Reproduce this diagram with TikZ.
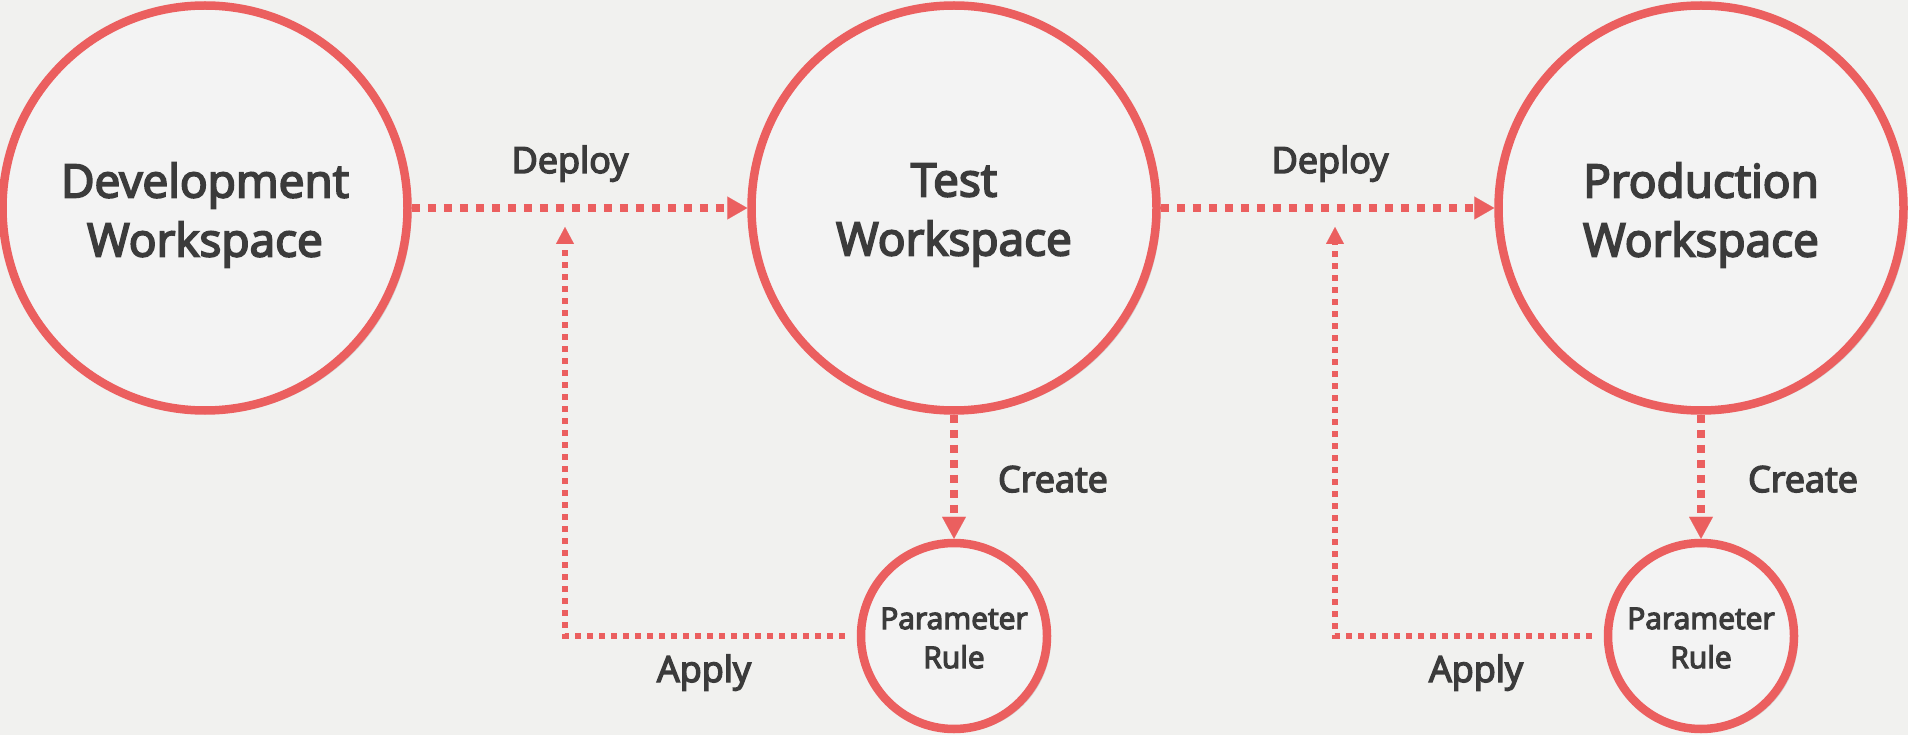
\documentclass[tikz,border=0pt]{standalone}
\usepackage{fontspec}
\setmainfont{Open Sans}[UprightFeatures={FakeBold=4}]
\usetikzlibrary{arrows.meta,shadows}
\definecolor{accent}{HTML}{EB5F5F}
\definecolor{ink}{HTML}{3B3B3B}
\definecolor{bg}{HTML}{F1F1EF}
\definecolor{disc}{HTML}{F3F3F3}
\begin{document}
\begin{tikzpicture}[x=1pt,y=-1pt,
  wsbox/.style={circle, draw=accent, line width=8.5pt, fill=disc, minimum size=405pt,
    inner sep=0pt,
    drop shadow={opacity=0.28, shadow xshift=4pt, shadow yshift=-3pt}},
  wstext/.style={text=ink, align=center, font=\fontsize{46}{59}\selectfont, yshift=-7pt},
  prbox/.style={circle, draw=accent, line width=8.5pt, fill=disc, minimum size=186pt,
    inner sep=0pt,
    drop shadow={opacity=0.28, shadow xshift=4pt, shadow yshift=-3pt}},
  prtext/.style={text=ink, align=center, font=\fontsize{30}{39}\selectfont, yshift=-2pt},
  lbl/.style={text=ink, font=\fontsize{36}{40}\selectfont, inner sep=0pt, anchor=base},
  deployline/.style={draw=accent, line width=8.3pt, dash pattern=on 8pt off 8pt,
    -{Triangle[length=20pt,width=23pt,line width=0.1pt]}},
  createline/.style={draw=accent, line width=8.3pt, dash pattern=on 8pt off 7pt,
    -{Triangle[length=22pt,width=24pt,line width=0.1pt]}},
  applyline/.style={draw=accent, line width=6pt, dash pattern=on 6pt off 6pt,
    -{Triangle[length=17pt,width=18pt,line width=0.1pt]}}
]
\fill[bg] (0,0) rectangle (1908,735);
\useasboundingbox (0,0) rectangle (1908,735);

\node[wsbox, label={[wstext]center:Development\\Workspace}] (dev) at (205,208) {};
\node[wsbox, label={[wstext]center:Test\\Workspace}] (test) at (954,208) {};
\node[wsbox, label={[wstext]center:Production\\Workspace}] (prod) at (1701,208) {};

\node[prbox, label={[prtext]center:Parameter\\Rule}] (pr1) at (954,636) {};
\node[prbox, label={[prtext]center:Parameter\\Rule}] (pr2) at (1701,636) {};

\coordinate (ap1) at (565,227);
\coordinate (ap2) at (1335,227);

\draw[deployline] (dev.east) -- (test.west);
\draw[deployline] (test.east) -- (prod.west);
\draw[createline] (test.south) -- (pr1.north);
\draw[createline] (prod.south) -- (pr2.north);
\draw[applyline, shorten <=12pt] (pr1.west) -| (ap1);
\draw[applyline, shorten <=12pt] (pr2.west) -| (ap2);

\node[lbl] (d1) at (570,173) {Deploy};
\node[lbl] (d2) at (1330,173) {Deploy};
\node[lbl] (c1) at (1053,492) {Create};
\node[lbl] (c2) at (1803,492) {Create};
\node[lbl] (a1) at (704,682) {Apply};
\node[lbl] (a2) at (1476,682) {Apply};
\end{tikzpicture}
\end{document}
